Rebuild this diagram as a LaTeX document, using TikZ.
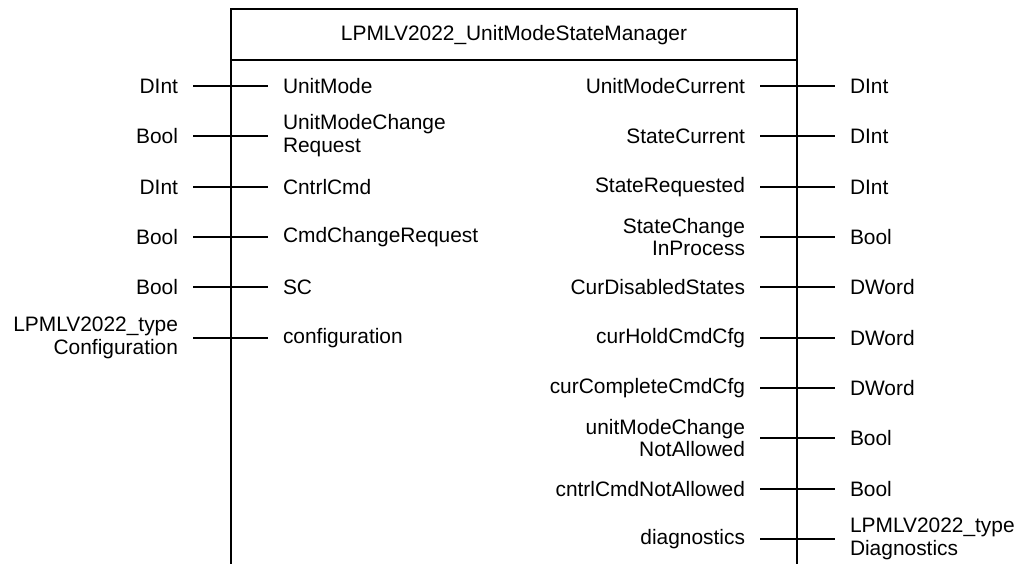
\documentclass[tikz,border=0pt]{standalone}
\usepackage{fontspec}
\setmainfont{Liberation Sans}
\usetikzlibrary{positioning}
\tikzset{%
  fbline/.style={line width=1.1pt},
  typeL/.style={anchor=east, align=right, inner sep=0pt, outer xsep=3mm},
  pinL/.style={align=left, inner sep=0pt, outer xsep=3mm},
  pinR/.style={anchor=east, align=right, inner sep=0pt, outer xsep=3mm},
  typeR/.style={align=left, inner sep=0pt, outer xsep=3mm},
}

\begin{document}
\begin{tikzpicture}[x=0.2mm, y=-0.2mm, font=\fontsize{11.9}{13}\selectfont]

  \useasboundingbox (0,0) rectangle (1024,564);

  % set up basic coordinates of the block
  \coordinate (BL) at (231,564);
  \coordinate (TL) at (231,9);
  \coordinate (TR) at (797,9);
  \coordinate (BR) at (797,564);
  \coordinate (HL) at (231,60);
  \coordinate (HR) at (797,60);

  % draw the block with its header
  \draw[fbline] (BL) -- (TL) -- (TR) -- (BR);
  \draw[fbline] (HL) -- (HR);
  \node (title) at (514,35) {LPMLV2022\_UnitModeStateManager};

  % inputs on the left
  \node[typeL] (tUM) at (193,86) {DInt};
  \node[pinL, right=15mm of tUM] (pUM) {UnitMode};
  \node[typeL] (tUMR) at (193,136) {Bool};
  \node[pinL, right=15mm of tUMR] (pUMR) {UnitModeChange\\Request};
  \node[typeL] (tCC) at (193,187) {DInt};
  \node[pinL, right=15mm of tCC] (pCC) {CntrlCmd};
  \node[typeL] (tCCR) at (193,237) {Bool};
  \node[pinL, right=15mm of tCCR] (pCCR) {CmdChangeRequest};
  \node[typeL] (tSC) at (193,287) {Bool};
  \node[pinL, right=15mm of tSC] (pSC) {SC};
  \node[typeL] (tCfg) at (193,338) {LPMLV2022\_type\\Configuration};
  \node[pinL, right=15mm of tCfg] (pCfg) {configuration};

  % outputs on the right
  \node[pinR] (pUMC) at (760,86) {UnitModeCurrent};
  \node[typeR, right=15mm of pUMC] (tUMC) {DInt};
  \node[pinR] (pSCur) at (760,136) {StateCurrent};
  \node[typeR, right=15mm of pSCur] (tSCur) {DInt};
  \node[pinR] (pSReq) at (760,187) {StateRequested};
  \node[typeR, right=15mm of pSReq] (tSReq) {DInt};
  \node[pinR] (pSCIP) at (760,237) {StateChange\\InProcess};
  \node[typeR, right=15mm of pSCIP] (tSCIP) {Bool};
  \node[pinR] (pCDS) at (760,287) {CurDisabledStates};
  \node[typeR, right=15mm of pCDS] (tCDS) {DWord};
  \node[pinR] (pHold) at (760,338) {curHoldCmdCfg};
  \node[typeR, right=15mm of pHold] (tHold) {DWord};
  \node[pinR] (pComp) at (760,388) {curCompleteCmdCfg};
  \node[typeR, right=15mm of pComp] (tComp) {DWord};
  \node[pinR] (pUMNA) at (760,438) {unitModeChange\\NotAllowed};
  \node[typeR, right=15mm of pUMNA] (tUMNA) {Bool};
  \node[pinR] (pCCNA) at (760,489) {cntrlCmdNotAllowed};
  \node[typeR, right=15mm of pCCNA] (tCCNA) {Bool};
  \node[pinR] (pDiag) at (760,539) {diagnostics};
  \node[typeR, right=15mm of pDiag] (tDiag) {LPMLV2022\_type\\Diagnostics};

  % pin lines, left then right
  \draw[fbline] (tUM.east) -- (pUM.west);
  \draw[fbline] (tUMR.east) -- (pUMR.west);
  \draw[fbline] (tCC.east) -- (pCC.west);
  \draw[fbline] (tCCR.east) -- (pCCR.west);
  \draw[fbline] (tSC.east) -- (pSC.west);
  \draw[fbline] (tCfg.east) -- (pCfg.west);

  \draw[fbline] (pUMC.east) -- (tUMC.west);
  \draw[fbline] (pSCur.east) -- (tSCur.west);
  \draw[fbline] (pSReq.east) -- (tSReq.west);
  \draw[fbline] (pSCIP.east) -- (tSCIP.west);
  \draw[fbline] (pCDS.east) -- (tCDS.west);
  \draw[fbline] (pHold.east) -- (tHold.west);
  \draw[fbline] (pComp.east) -- (tComp.west);
  \draw[fbline] (pUMNA.east) -- (tUMNA.west);
  \draw[fbline] (pCCNA.east) -- (tCCNA.west);
  \draw[fbline] (pDiag.east) -- (tDiag.west);

\end{tikzpicture}
\end{document}
